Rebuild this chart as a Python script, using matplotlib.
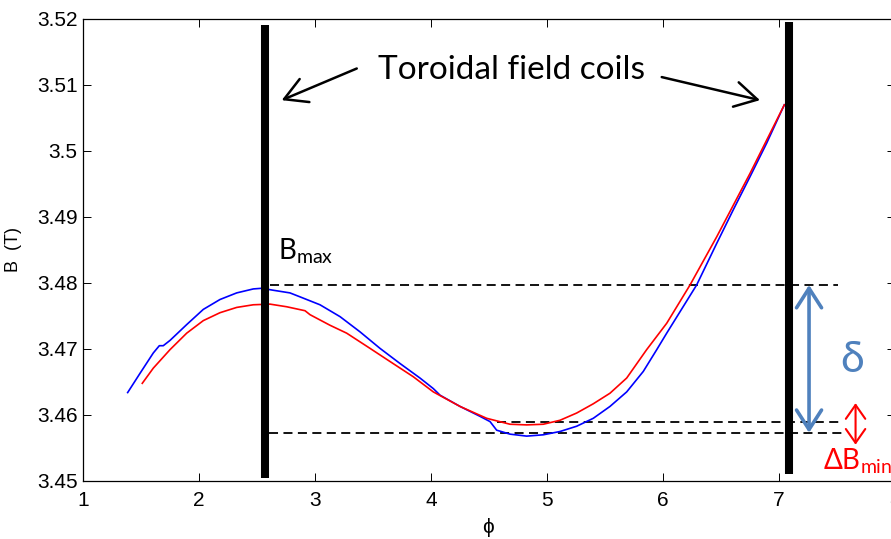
import matplotlib
matplotlib.use("Agg")
import matplotlib.pyplot as plt

# ---- data ----
blue_phi = [1.385, 1.491, 1.606, 1.658, 1.692, 1.750, 1.894, 2.037, 2.181, 2.325, 2.468, 2.541,
            2.641, 2.784, 2.871, 3.043, 3.216, 3.388, 3.560, 3.733, 3.905, 4.020, 4.078, 4.250,
            4.422, 4.509, 4.566, 4.681, 4.825, 4.968, 5.112, 5.256, 5.399, 5.543, 5.687, 5.830,
            5.946, 6.032, 6.290, 6.463, 6.606, 6.750, 6.894, 7.046]
blue_B = [3.4634, 3.4663, 3.4694, 3.4705, 3.4705, 3.4713, 3.4737, 3.4760, 3.4775, 3.4785, 3.4791, 3.4792,
          3.4789, 3.4785, 3.4779, 3.4767, 3.4749, 3.4726, 3.4701, 3.4678, 3.4656, 3.4640, 3.4630, 3.4613,
          3.4598, 3.4590, 3.4577, 3.4571, 3.4568, 3.4570, 3.4575, 3.4583, 3.4595, 3.4613, 3.4635, 3.4666,
          3.4699, 3.4724, 3.4797, 3.4860, 3.4911, 3.4961, 3.5012, 3.5070]

red_phi = [1.511, 1.606, 1.750, 1.894, 2.037, 2.181, 2.325, 2.468, 2.612, 2.756, 2.914, 2.957,
           3.129, 3.273, 3.474, 3.647, 3.847, 4.020, 4.250, 4.480, 4.681, 4.825, 4.968, 5.112,
           5.256, 5.399, 5.543, 5.687, 5.859, 6.032, 6.233, 6.463, 6.750, 7.046]
red_B = [3.4648, 3.4671, 3.4699, 3.4724, 3.4743, 3.4755, 3.4763, 3.4767, 3.4768, 3.4764, 3.4758, 3.4752,
         3.4736, 3.4724, 3.4701, 3.4681, 3.4658, 3.4635, 3.4613, 3.4595, 3.4586, 3.4585, 3.4586, 3.4592,
         3.4603, 3.4617, 3.4633, 3.4656, 3.4699, 3.4739, 3.4797, 3.4870, 3.4966, 3.5070]

coil_phi = [2.569, 7.083]
coil_bottom = [3.4505, 3.4511]
coil_top = [3.5191, 3.5196]

B_max = 3.4797
B_min_blue = 3.4573
B_min_red = 3.4589

x_ticks = [1, 2, 3, 4, 5, 6, 7, 8]
y_ticks = [3.45, 3.46, 3.47, 3.48, 3.49, 3.50, 3.51, 3.52]
y_tick_labels = ["3.45", "3.46", "3.47", "3.48", "3.49", "3.5", "3.51", "3.52"]

ann_font = ["Lato", "DejaVu Sans"]
tick_font = ["Liberation Sans", "DejaVu Sans"]
delta_blue = "#4F81BD"

fig = plt.figure(figsize=(8.91, 5.39), dpi=100)
ax = fig.add_axes([83 / 891, 58 / 539, 812 / 891, 462 / 539])

ax.plot(blue_phi, blue_B, color="#0000FF", lw=1.2, zorder=3)
ax.plot(red_phi, red_B, color="#FF0000", lw=1.2, zorder=3)

for x, y0, y1 in zip(coil_phi, coil_bottom, coil_top):
    ax.plot([x, x], [y0, y1], color="black", lw=5.8, solid_capstyle="butt", zorder=4)

dash = dict(color="black", lw=1.3, dashes=(5, 3), zorder=2)
ax.plot([2.612, 7.509], [B_max, B_max], **dash)
ax.plot([2.60, 7.552], [B_min_blue, B_min_blue], **dash)
ax.plot([4.569, 7.552], [B_min_red, B_min_red], **dash)

# annotations
ax.text(4.696, 3.5123, "Toroidal field coils", fontsize=24, family=ann_font,
        ha="center", va="center")
arrow_kw = dict(arrowstyle="->,head_length=0.8,head_width=0.45", lw=1.8, color="black",
                shrinkA=0, shrinkB=0, mutation_scale=20)
ax.annotate("", xy=(2.713, 3.5077), xytext=(3.360, 3.5125), arrowprops=arrow_kw)
ax.annotate("", xy=(6.836, 3.5077), xytext=(5.989, 3.5112), arrowprops=arrow_kw)

ax.text(2.681, 3.4835, r"$\mathregular{B_{max}}$", fontsize=20, family=ann_font,
        ha="left", va="baseline")

ax.annotate("", xy=(7.259, 3.4797), xytext=(7.259, 3.4573),
            arrowprops=dict(arrowstyle="<->,head_length=0.7,head_width=0.45", lw=2.6,
                            color=delta_blue, shrinkA=0, shrinkB=0, mutation_scale=20))
ax.text(7.629, 3.4683, "δ", fontsize=31, family=ann_font, color=delta_blue,
        ha="center", va="center")

ax.annotate("", xy=(7.66, 3.4618), xytext=(7.66, 3.4555),
            arrowprops=dict(arrowstyle="<->,head_length=0.5,head_width=0.35", lw=1.5,
                            color="#FF0000", shrinkA=0, shrinkB=0, mutation_scale=20))
ax.text(7.379, 3.4517, r"$\mathregular{\Delta B_{min}}$", fontsize=20, family=ann_font,
        color="#FF0000", ha="left", va="baseline")

ax.set_xlim(1, 8)
ax.set_ylim(3.45, 3.52)
ax.set_xticks(x_ticks)
ax.set_yticks(y_ticks)
ax.set_yticklabels(y_tick_labels)
ax.tick_params(direction="in", length=5.8, width=0.7, top=True, right=True,
               labelsize=15, pad=4)
for lab in ax.get_xticklabels() + ax.get_yticklabels():
    lab.set_family(tick_font)
ax.tick_params(axis="x", pad=7)
for s in ax.spines.values():
    s.set_linewidth(0.9)

ax.set_ylabel("B  (T)", fontsize=13, family=tick_font)
ax.yaxis.set_label_coords(-0.0751, 0.5)
ax.set_xlabel("ϕ", fontsize=15, family=tick_font, va="center")
ax.xaxis.set_label_coords(0.4988, -0.0996)

fig.savefig("out.png", dpi=100)
